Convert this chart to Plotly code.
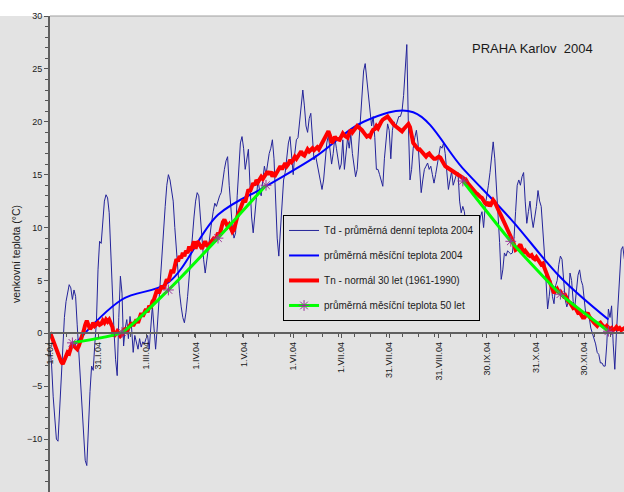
import pandas as pd
import plotly.graph_objects as go

# ---------------- data ----------------
start_date = "2004-01-01"

# Td - daily mean temperature 2004 (days from 1 Jan)
td_2004 = [
    -1.5, -3.0, -6.0, -8.5, -10.0, -10.2, -7.0, -4.0, -1.5, 1.5,
    3.0, 4.0, 4.6, 4.3, 3.2, 4.1, 3.5, 0.8, -2.0, -4.3,
    -7.5, -9.5, -12.0, -12.5, -8.5, -5.5, -3.1, -3.5, -1.0, 1.0,
    6.0, 8.7, 8.5, 10.5, 12.5, 13.1, 12.8, 11.4, 7.5, 3.0,
    0.2, -2.5, -4.0, 1.5, 5.4, 3.8, -1.2, 0.5, 1.3, -0.5,
    1.6, 0.5, -1.8, -0.2, -1.0, -1.5, -0.5, -1.3, -0.8, -1.0,
    -0.5, -0.2, -1.5, 1.0, 2.6, 0.5, -1.5, 0.5, 3.0, 5.0,
    7.5, 10.0, 12.0, 14.0, 15.0, 14.5, 13.5, 12.5, 10.0, 8.0,
    5.5, 3.8, 2.5, 1.5, 1.0, 2.0, 3.5, 5.5, 7.2, 9.0,
    11.0, 12.5, 13.3, 13.0, 11.0, 8.5, 7.0, 5.7, 7.0, 8.2,
    9.0, 10.5, 11.5, 12.3, 12.0, 12.6, 13.0, 13.3, 14.5, 15.5,
    16.3, 16.7, 14.0, 12.0, 10.0, 9.0, 9.5, 13.0, 16.0, 18.0,
    18.6, 17.5, 15.5, 16.5, 17.4, 14.0, 11.0, 9.5, 11.0, 13.0,
    14.5, 13.5, 13.0, 14.5, 15.8, 15.0, 16.0, 17.0, 17.5, 18.3,
    16.5, 12.5, 9.0, 7.3, 9.5, 12.5, 14.5, 15.2, 16.5, 18.0,
    18.6, 16.5, 15.0, 17.0, 18.3, 18.5, 19.8, 21.5, 23.0, 21.5,
    19.6, 19.0, 20.3, 20.8, 18.5, 16.4, 16.8, 16.0, 15.5, 14.5,
    13.6, 14.5, 16.5, 18.0, 18.7, 17.5, 16.0, 17.0, 18.5, 17.5,
    16.5, 15.5, 16.0, 18.3, 15.5, 17.0, 18.5, 17.5, 18.8, 17.0,
    15.8, 14.8, 15.5, 18.0, 20.5, 23.0, 24.8, 25.5, 24.0, 23.0,
    21.0, 19.6, 20.5, 18.5, 15.5, 15.5, 15.0, 14.5, 13.9, 16.5,
    18.5, 19.8, 19.2, 16.5, 19.2, 20.0, 19.5, 20.0, 20.5, 20.5,
    21.0, 22.5, 24.5, 27.3, 19.6, 14.5, 15.5, 17.5, 18.5, 19.2,
    18.0, 16.0, 13.3, 14.5, 15.5, 15.8, 16.1, 15.5, 15.8, 15.0,
    14.2, 15.0, 16.0, 16.8, 17.7, 17.5, 18.0, 17.0, 15.0, 13.6,
    14.5, 15.3, 14.0, 14.5, 15.0, 15.2, 12.5, 11.4, 12.0, 11.5,
    10.0, 9.5, 8.5, 8.0, 7.9, 9.0, 9.5, 8.3, 9.5, 11.0,
    11.5, 10.0, 12.0, 13.3, 14.0, 15.2, 17.0, 18.1, 16.5, 14.2,
    11.0, 8.6, 5.1, 6.0, 7.6, 7.3, 7.8, 7.6, 7.5, 7.6,
    9.0, 11.5, 14.0, 14.5, 14.0, 14.8, 15.2, 12.5, 10.4, 11.5,
    12.5, 11.0, 10.0, 11.0, 12.0, 13.5, 12.5, 12.0, 10.0, 7.6,
    5.0, 2.3, 3.5, 5.0, 3.5, 2.8, 4.5, 5.0, 6.5, 7.3,
    7.0, 5.0, 3.2, 2.5, 3.0, 5.7, 5.0, 3.0, 2.5, 4.0,
    5.5, 6.0, 5.0, 4.5, 3.0, 1.6, 2.0, 1.5, 0.5, 0.0,
    -0.5, -1.0, -1.8, -2.0, -2.8, -2.8, -3.1, -3.1, -1.0, 2.3,
    1.5, 2.6, -1.0, -3.4, 0.0, 3.0, 5.7, 7.9, 8.2, 7.0,
]

# Tn - daily normal 1961-1990
tn_normal = [
    0.1, -0.3, -0.9, -1.3, -1.5, -2.0, -2.5, -2.7, -2.9, -2.5, -2.2,
    -1.8, -1.9, -1.4, -0.9, -1.2, -1.3, -1.5, -1.2, -0.8, -0.3,
    0.2, 0.8, 1.2, 0.8, 0.4, 0.6, 1.0, 0.7, 0.9, 1.0,
    0.8, 0.9, 1.2, 1.0, 1.3, 1.1, 1.3, 0.9, 0.6, -0.3,
    0.0, 0.2, 0.0, -0.25, -0.1, 0.3, 0.4, 0.2, 0.5, 0.8,
    1.0, 0.7, 1.1, 1.3, 1.0, 1.5, 1.9, 1.6, 2.0, 2.3,
    2.0, 2.6, 2.4, 3.0, 3.2, 3.6, 4.15, 3.8, 4.3, 4.5,
    4.2, 4.8, 5.1, 4.9, 5.5, 6.0, 5.7, 6.5, 7.0, 6.8,
    7.3, 7.1, 7.6, 7.3, 7.8, 7.6, 8.2, 7.8, 8.3, 8.7,
    8.0, 8.7, 8.5, 8.2, 8.0, 8.4, 8.7, 8.3, 8.2, 8.5,
    8.7, 8.9, 8.7, 9.2, 9.5, 9.3, 10.0, 10.5, 10.75, 10.5,
    10.1, 10.3, 9.8, 9.6, 9.8, 10.5, 11.0, 11.4, 11.8, 12.2,
    12.6, 12.4, 13.0, 13.6, 13.4, 13.8, 14.2, 14.0, 14.5, 14.3,
    14.5, 14.8, 14.6, 14.8, 15.1, 15.3, 15.0, 15.3, 14.8, 15.2,
    15.0, 15.3, 15.6, 15.8, 15.5, 15.9, 16.1, 15.8, 16.0, 16.4,
    16.2, 16.4, 16.7, 16.5, 16.7, 17.0, 17.2, 16.9, 16.8, 17.1,
    17.4, 17.2, 17.4, 17.5, 17.3, 17.5, 17.6, 17.4, 17.7, 18.0,
    18.3, 18.6, 19.0, 19.1, 18.7, 18.0, 18.2, 18.6, 18.4, 18.3,
    18.3, 18.6, 18.9, 18.7, 18.6, 18.5, 18.9, 19.25, 19.0, 19.3,
    19.4, 19.6, 19.5, 19.3, 19.2, 19.0, 18.8, 18.6, 18.7, 18.6,
    19.0, 19.25, 19.3, 19.6, 19.4, 19.8, 20.0, 20.2, 20.3, 20.5,
    20.5, 20.3, 20.0, 19.9, 19.7, 19.6, 19.5, 19.3, 19.25, 19.1,
    19.3, 19.5, 19.7, 19.8, 19.5, 18.8, 18.0, 17.8, 17.6, 17.4,
    17.4, 17.2, 17.0, 16.8, 16.7, 16.9, 17.0, 16.8, 16.6, 16.5,
    16.5, 16.6, 16.7, 16.6, 16.3, 16.0, 15.8, 15.7, 15.6, 15.5,
    15.4, 15.3, 15.2, 15.2, 15.0, 14.9, 14.8, 14.7, 14.6, 14.5,
    14.2, 14.0, 13.9, 13.7, 13.5, 13.3, 13.2, 13.0, 12.9, 12.8,
    12.5, 12.3, 12.2, 12.4, 12.0, 12.3, 12.6, 12.4, 12.0, 11.7,
    11.4, 11.1, 10.8, 10.4, 10.0, 9.8, 9.5, 9.2, 8.8, 8.4,
    7.9, 8.0, 8.2, 8.4, 8.0, 7.6, 7.8, 7.5, 7.4, 7.3,
    7.4, 7.1, 7.0, 7.2, 6.9, 6.7, 6.5, 6.6, 6.2, 6.0,
    5.5, 5.0, 4.6, 4.2, 3.8, 4.0, 4.2, 3.9, 3.95, 3.7,
    3.5, 3.6, 3.2, 3.0, 2.9, 2.7, 2.4, 2.5, 2.2, 1.95,
    2.0, 1.8, 1.5, 1.5, 1.7, 1.95, 1.6, 1.3, 1.2, 1.0,
    0.8, 0.7, 0.9, 1.0, 0.8, 0.6, 0.5, 0.7, 0.5, 0.4,
    0.5, 0.3, 0.4, 0.6, 0.4, 0.5, 0.3, 0.4, 0.5, 0.4,
    0.3, 0.5, 0.4, 0.2, 0.3,
]

# monthly means (plotted at mid-month)
month_mid = ["2004-01-15", "2004-02-15", "2004-03-15", "2004-04-15",
             "2004-05-15", "2004-06-15", "2004-07-15", "2004-08-15",
             "2004-09-15", "2004-10-15", "2004-11-15", "2004-12-15"]
monthly_2004 = [-1.3, 3.2, 4.8, 11.2, 13.9, 16.7, 20.0, 20.9, 15.6, 10.8, 5.3, 1.3]
monthly_50y = [-0.9, 0.1, 4.1, 9.0, 14.0, None, None, None, 14.4, 8.7, 3.7, 0.2]

tick_dates = ["2004-01-01", "2004-01-31", "2004-03-01", "2004-04-01", "2004-05-01",
              "2004-06-01", "2004-07-01", "2004-07-31", "2004-08-31", "2004-09-30",
              "2004-10-31", "2004-11-30"]
tick_labels = ["1.I.04", "31.I.04", "1.III.04", "1.IV.04", "1.V.04", "1.VI.04",
               "1.VII.04", "31.VII.04", "31.VIII.04", "30.IX.04", "31.X.04", "30.XI.04"]

names = ["Td - průměrná denní teplota 2004",
         "průměrná měsíční teplota 2004",
         "Tn - normál 30 let (1961-1990)",
         "průměrná měsíční teplota 50 let"]
title_text = "PRAHA Karlov  2004"
y_title = "venkovní teplota (°C)"

# ---------------- figure ----------------
days_td = pd.date_range(start_date, periods=len(td_2004), freq="D")
days_tn = pd.date_range(start_date, periods=len(tn_normal), freq="D")
mid = pd.to_datetime(month_mid)

BG = "#e3e3e3"
fig = go.Figure()
fig.add_trace(go.Scatter(x=days_td, y=td_2004, mode="lines", name=names[0],
                         line=dict(color="#24249a", width=1), legendgroup="a"))
fig.add_trace(go.Scatter(x=mid, y=monthly_2004, mode="lines", name=names[1],
                         line=dict(color="#0000ff", width=2, shape="spline", smoothing=1.0),
                         legendgroup="b"))
fig.add_trace(go.Scatter(x=days_tn, y=tn_normal, mode="lines", name=names[2],
                         line=dict(color="#ff0000", width=4), legendgroup="c"))
fig.add_trace(go.Scatter(x=mid, y=monthly_50y, mode="lines+markers", name=names[3],
                         line=dict(color="#00ff00", width=3, shape="spline", smoothing=0.5),
                         marker=dict(symbol="asterisk-open", size=9, color="#993399",
                                     line=dict(color="#993399", width=1)),
                         connectgaps=False, legendgroup="d"))

fig.update_layout(
    width=624, height=492,
    margin=dict(l=50, r=0, t=16, b=0, pad=0, autoexpand=False),
    paper_bgcolor=BG, plot_bgcolor=BG,
    font=dict(family="Arial, 'Liberation Sans', sans-serif", color="#1a1a1a", size=10),
    legend=dict(x=0.406, y=0.582, xanchor="left", yanchor="top",
                bgcolor=BG, bordercolor="#000000", borderwidth=1,
                font=dict(size=10, color="#1a1a1a"), tracegroupgap=6,
                traceorder="grouped", itemwidth=30),
    xaxis=dict(type="date", range=["2004-01-01", "2004-12-24 18:00"],
               tickmode="array", tickvals=tick_dates, ticktext=tick_labels,
               tickangle=-90, ticks="outside", ticklen=4, tickcolor="#555555",
               showline=True, linecolor="#606060", linewidth=2, automargin=False,
               anchor="free", position=1/3, showgrid=False, zeroline=False,
               tickfont=dict(size=9, color="#1a1a1a"),
               minor=dict(tickmode="linear", tick0="2004-01-01", dtick=864000000,
                          ticks="outside", ticklen=3, tickcolor="#555555", showgrid=False)),
    yaxis=dict(range=[-15, 30], tickmode="linear", tick0=0, dtick=5,
               ticks="outside", ticklen=4, tickcolor="#555555",
               showline=True, linecolor="#606060", linewidth=2, automargin=False,
               showgrid=False, zeroline=False,
               tickfont=dict(size=9, color="#1a1a1a"),
               title=dict(text=y_title, font=dict(size=10.5), standoff=4),
               minor=dict(tickmode="linear", tick0=0, dtick=1, ticks="outside",
                          ticklen=3, tickcolor="#555555", showgrid=False)),
    shapes=[
        dict(type="rect", xref="paper", yref="paper", x0=-0.2, x1=1.01, y0=1, y1=1.1,
             fillcolor="white", line_width=0, layer="below"),
        dict(type="line", xref="paper", yref="paper", x0=0, x1=1, y0=1, y1=1,
             line=dict(color="#a0a0a0", width=1)),
    ],
    annotations=[dict(text=title_text, xref="paper", yref="paper", x=0.84, y=0.932,
                      xanchor="center", yanchor="middle", showarrow=False,
                      font=dict(size=13, color="#1a1a1a"))],
)

fig.write_html("out.html", config={"displayModeBar": False},
               post_script="document.body.style.margin='0';document.body.style.overflow='hidden';")
